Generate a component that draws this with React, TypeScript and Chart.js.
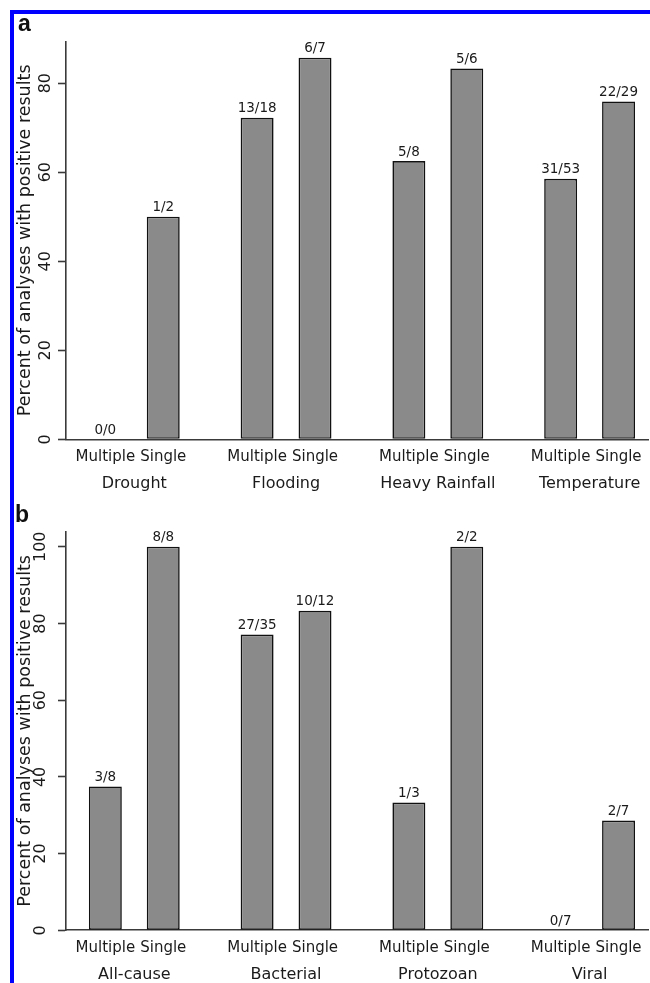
import React, { useEffect, useRef } from "react";
import { Chart, registerables } from "chart.js";

Chart.register(...registerables);

// ---------- data ----------
const groupsA = ["Drought", "Flooding", "Heavy Rainfall", "Temperature"];
const multipleA = [0, 72.2, 62.5, 58.5];
const singleA = [50, 85.7, 83.3, 75.9];
const multipleLabelsA = ["0/0", "13/18", "5/8", "31/53"];
const singleLabelsA = ["1/2", "6/7", "5/6", "22/29"];
const yTicksA = [0, 20, 40, 60, 80];
const yMaxA = 89.4;

const groupsB = ["All-cause", "Bacterial", "Protozoan", "Viral"];
const multipleB = [37.5, 77.1, 33.3, 0];
const singleB = [100, 83.3, 100, 28.6];
const multipleLabelsB = ["3/8", "27/35", "1/3", "0/7"];
const singleLabelsB = ["8/8", "10/12", "2/2", "2/7"];
const yTicksB = [0, 20, 40, 60, 80, 100];
const yMaxB = 104;

const subLabels = ["Multiple", "Single"];
const yTitle = "Percent of analyses with positive results";

// ---------- styles ----------
const FONT = "'DejaVu Sans', 'Liberation Sans', sans-serif";
const TEXT = "#1a1a1a";
const AXIS = "#3a3a3a";
const BAR_FILL = "#8a8a8a";
const BAR_EDGE = "#111111";
const CAT_PCT = 0.763;
const BAR_PCT = 0.569;
const X_MIN = -0.45;
const X_MAX = 3.39;

type PanelProps = {
  groups: string[];
  multiple: number[];
  single: number[];
  multipleLabels: string[];
  singleLabels: string[];
  yMax: number;
  yTicks: number[];
  top: number;
  height: number;
  padTop: number;
};

function BarPanel(props: PanelProps) {
  const ref = useRef<HTMLCanvasElement>(null);
  useEffect(() => {
    const { groups, multiple, single, multipleLabels, singleLabels, yMax, yTicks, padTop } = props;
    const valueLabels = [multipleLabels, singleLabels];
    const labelPlugin = {
      id: "fractionLabels",
      afterDatasetsDraw(chart: any) {
        const ctx = chart.ctx;
        ctx.save();
        ctx.font = `13.5px ${FONT}`;
        ctx.fillStyle = TEXT;
        ctx.textAlign = "center";
        ctx.textBaseline = "alphabetic";
        chart.data.datasets.forEach((_ds: any, di: number) => {
          const meta = chart.getDatasetMeta(di);
          meta.data.forEach((el: any, i: number) => {
            ctx.fillText(valueLabels[di][i], el.x, el.y - 5.5);
          });
        });
        ctx.restore();
      },
    };
    const barStyle = {
      xAxisID: "grp",
      yAxisID: "y",
      backgroundColor: BAR_FILL,
      borderColor: BAR_EDGE,
      borderWidth: (c: any) => (c.raw && c.raw.y === 0 ? 0 : 1.6),
      borderSkipped: false,
    };
    const xAxisBase = {
      type: "linear",
      axis: "x",
      position: "bottom",
      offset: false,
      min: X_MIN,
      max: X_MAX,
      grid: { display: false, drawTicks: false, offset: false },
    };
    const chart = new Chart(ref.current as HTMLCanvasElement, {
      type: "bar",
      data: {
        datasets: [
          { label: subLabels[0], data: multiple.map((v, i) => ({ x: i, y: v })), ...barStyle } as any,
          { label: subLabels[1], data: single.map((v, i) => ({ x: i, y: v })), ...barStyle } as any,
        ],
      },
      options: {
        responsive: false,
        animation: false,
        layout: { padding: { top: padTop, left: 0, right: 0, bottom: 0 } },
        plugins: { legend: { display: false }, tooltip: { enabled: false }, title: { display: false } },
        datasets: { bar: { categoryPercentage: CAT_PCT, barPercentage: BAR_PCT } },
        scales: {
          y: {
            type: "linear",
            position: "left",
            min: 0,
            max: yMax,
            afterBuildTicks: (s: any) => {
              s.ticks = yTicks.map((v) => ({ value: v }));
            },
            afterFit: (s: any) => {
              s.width = 66;
            },
            border: { display: true, color: AXIS, width: 1.6 },
            grid: {
              display: true,
              drawOnChartArea: false,
              drawTicks: true,
              tickLength: 8,
              tickColor: AXIS,
              tickWidth: 1.6,
            },
            ticks: {
              font: { family: FONT, size: 16 },
              color: TEXT,
              minRotation: 90,
              maxRotation: 90,
              crossAlign: "center",
              padding: 2.3,
            },
            title: {
              display: true,
              text: yTitle,
              font: { family: FONT, size: 17.5 },
              color: TEXT,
              padding: { top: 14.5, bottom: 0 },
            },
          },
          sub: {
            ...xAxisBase,
            weight: 0,
            afterBuildTicks: (s: any) => {
              s.ticks = groups.flatMap((_g, i) => [
                { value: i - CAT_PCT / 4 },
                { value: i + CAT_PCT / 4 },
              ]);
            },
            afterFit: (s: any) => {
              s.height = 27;
            },
            ticks: {
              callback: (_v: any, idx: number) => subLabels[idx % 2],
              autoSkip: false,
              maxRotation: 0,
              minRotation: 0,
              font: { family: FONT, size: 15 },
              color: TEXT,
              padding: 8.4,
            },
            border: { display: true, color: AXIS, width: 1.6 },
          },
          grp: {
            ...xAxisBase,
            weight: 1,
            afterBuildTicks: (s: any) => {
              s.ticks = groups.map((_g, i) => ({ value: i }));
            },
            afterFit: (s: any) => {
              s.height = 25.7;
            },
            ticks: {
              callback: (_v: any, idx: number) => groups[idx],
              autoSkip: false,
              maxRotation: 0,
              minRotation: 0,
              font: { family: FONT, size: 16 },
              color: TEXT,
              padding: 7.5,
            },
            border: { display: false },
          },
        } as any,
      },
      plugins: [labelPlugin],
    });
    return () => chart.destroy();
  }, []);
  return (
    <canvas
      ref={ref}
      width={650}
      height={props.height}
      style={{ position: "absolute", left: 0, top: props.top, display: "block" }}
    />
  );
}

export default function App() {
  const letter: React.CSSProperties = {
    position: "absolute",
    font: "bold 23px 'Liberation Sans', Arial, sans-serif",
    lineHeight: "23px",
    color: "#111",
  };
  return (
    <div
      style={{
        position: "absolute",
        left: 0,
        top: 0,
        width: 650,
        height: 983,
        overflow: "hidden",
        background: "#ffffff",
      }}
    >
      <BarPanel
        groups={groupsA}
        multiple={multipleA}
        single={singleA}
        multipleLabels={multipleLabelsA}
        singleLabels={singleLabelsA}
        yMax={yMaxA}
        yTicks={yTicksA}
        top={0}
        height={492}
        padTop={41.3}
      />
      <BarPanel
        groups={groupsB}
        multiple={multipleB}
        single={singleB}
        multipleLabels={multipleLabelsB}
        singleLabels={singleLabelsB}
        yMax={yMaxB}
        yTicks={yTicksB}
        top={492}
        height={491}
        padTop={39.4}
      />
      <div
        style={{
          position: "absolute",
          left: 10,
          top: 10,
          right: 0,
          bottom: 0,
          borderLeft: "4px solid #0000ff",
          borderTop: "4px solid #0000ff",
          pointerEvents: "none",
        }}
      />
      <span style={{ ...letter, left: 18, top: 12 }}>a</span>
      <span style={{ ...letter, left: 15, top: 503 }}>b</span>
    </div>
  );
}
